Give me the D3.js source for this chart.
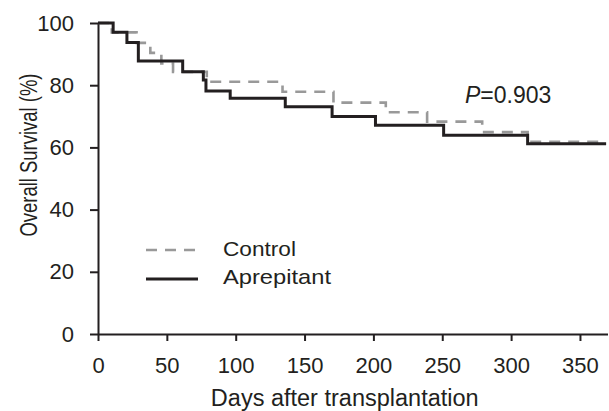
<!DOCTYPE html>
<html>
<head>
<meta charset="utf-8">
<script src="https://cdn.jsdelivr.net/npm/d3@7"></script>
<style>
  body { margin: 0; background: #fff; }
  svg text { font-family: 'Liberation Sans', Arial, sans-serif; fill: #231f20; }
</style>
</head>
<body>
<svg id="chart" width="609" height="411"></svg>
<script>
// step points (day, survival %)
const controlDays = [0, 10, 28, 38, 46, 54.5, 79, 134, 171, 209, 239, 279, 312, 369];
const controlSurv = [100, 97, 93.6, 90.4, 87, 84.3, 81.1, 77.9, 74.4, 71.3, 68.3, 64.9, 61.8, 61.8];
const aprepDays = [0, 11, 21, 29.3, 61.5, 76.5, 78.4, 96, 136, 170, 201.5, 251, 312, 369];
const aprepSurv = [100, 97, 93.7, 87.8, 84.3, 81.7, 78.1, 75.8, 73.1, 69.9, 67.1, 63.9, 61.2, 61.2];
const xTicks = [0, 50, 100, 150, 200, 250, 300, 350];
const yTicks = [0, 20, 40, 60, 80, 100];

const svg = d3.select('#chart');

const x = d3.scaleLinear().domain([0, 370]).range([98, 607.5]);
const y = d3.scaleLinear().domain([0, 100]).range([334, 23]);

const line = d3.line()
  .x((d) => x(d[0]))
  .y((d) => y(d[1]))
  .curve(d3.curveStepAfter);

const series = [
  { name: 'Control', days: controlDays, surv: controlSurv, color: '#999', width: 2.6, dash: '11,8', len: 73 },
  { name: 'Aprepitant', days: aprepDays, surv: aprepSurv, color: '#231f20', width: 3, dash: null, len: 108 }
];

// x axis
const xAxis = svg.append('g')
  .attr('transform', `translate(0,${y(0)})`)
  .call(d3.axisBottom(x).tickValues(xTicks).tickSize(7).tickSizeOuter(0).tickPadding(16));
xAxis.select('.domain').attr('stroke', '#231f20').attr('stroke-width', 2);
xAxis.selectAll('.tick line').attr('stroke', '#231f20').attr('stroke-width', 2);
xAxis.selectAll('.tick text').style('font-size', '22px');

// y axis
const yAxis = svg.append('g')
  .attr('transform', `translate(${x(0)},0)`)
  .call(d3.axisLeft(y).tickValues(yTicks).tickSize(8).tickSizeOuter(0).tickPadding(16));
yAxis.select('.domain').attr('stroke', '#231f20').attr('stroke-width', 2);
yAxis.selectAll('.tick line').attr('stroke', '#231f20').attr('stroke-width', 2);
yAxis.selectAll('.tick text').style('font-size', '22px');

// curves
svg.selectAll('.km')
  .data(series)
  .join('path')
  .attr('class', 'km')
  .attr('fill', 'none')
  .attr('stroke', (d) => d.color)
  .attr('stroke-width', (d) => d.width)
  .attr('stroke-dasharray', (d) => d.dash)
  .attr('d', (d) => line(d.days.map((v, i) => [v, d.surv[i]])));

// axis titles
svg.append('text')
  .attr('x', (x(0) + x(370)) / 2 - 8)
  .attr('y', 406)
  .attr('text-anchor', 'middle')
  .style('font-size', '23.5px')
  .text('Days after transplantation');

svg.append('text')
  .attr('transform', 'translate(37,155) rotate(-90)')
  .attr('text-anchor', 'middle')
  .attr('textLength', 163)
  .attr('lengthAdjust', 'spacingAndGlyphs')
  .style('font-size', '23px')
  .text('Overall Survival (%)');

// legend
const legend = svg.append('g').selectAll('g')
  .data(series)
  .join('g')
  .attr('transform', (d, i) => `translate(146,${250 + i * 29})`);

legend.append('line')
  .attr('x1', 0).attr('x2', 52)
  .attr('stroke', (d) => d.color)
  .attr('stroke-width', (d) => d.width)
  .attr('stroke-dasharray', (d) => d.dash);

legend.append('text')
  .attr('x', 77)
  .attr('y', (d, i) => 6 - i * 1.5)
  .attr('textLength', (d) => d.len)
  .attr('lengthAdjust', 'spacingAndGlyphs')
  .style('font-size', '21px')
  .text((d) => d.name);

// p value
const p = svg.append('text')
  .attr('x', 465)
  .attr('y', 103)
  .style('font-size', '23px');
p.append('tspan').style('font-style', 'italic').text('P');
p.append('tspan').text('=0.903');
</script>
</body>
</html>
